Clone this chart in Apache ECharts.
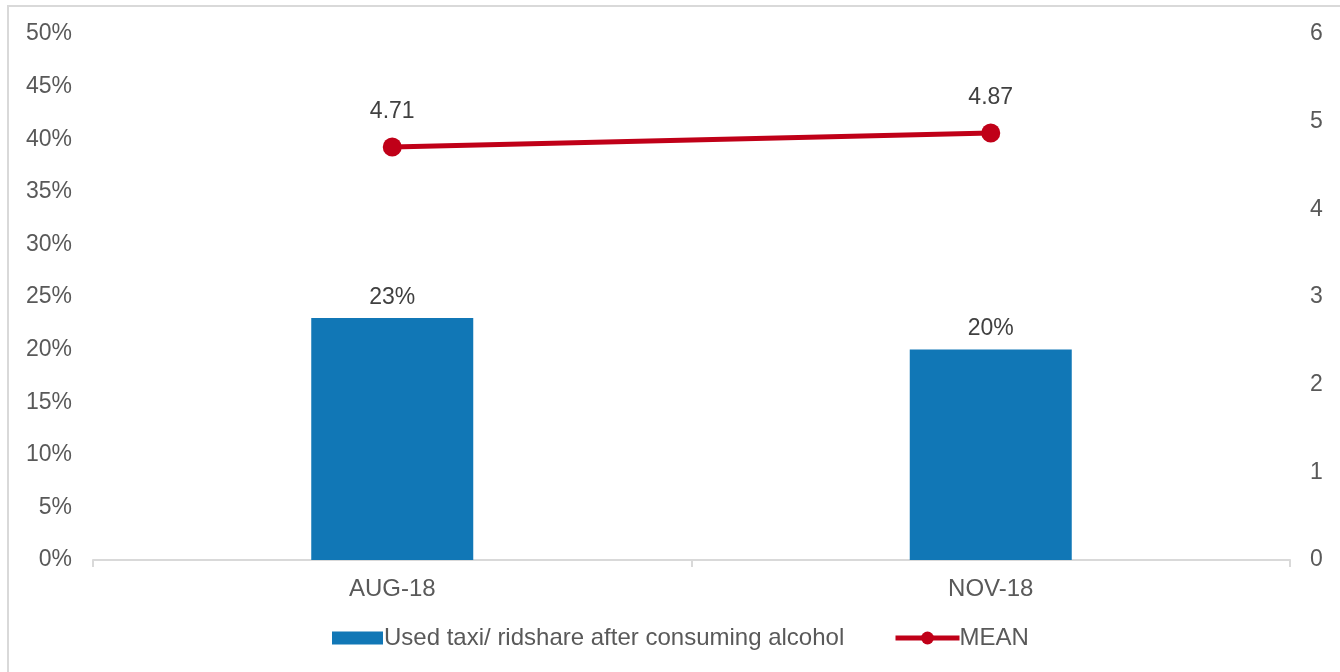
<!DOCTYPE html>
<html>
<head>
<meta charset="utf-8">
<script src="https://cdn.jsdelivr.net/npm/echarts@6/dist/echarts.min.js"></script>
<style>
  html, body { margin: 0; padding: 0; background: #ffffff; }
  #frame { position: absolute; left: 7px; top: 5px; width: 1345px; height: 690px; border: 2px solid #d9d9d9; box-sizing: border-box; }
  #chart { position: absolute; left: 0; top: 0; width: 1340px; height: 672px; }
</style>
</head>
<body>
<div id="frame"></div>
<div id="chart"></div>
<script>
// Survey waves
const categories = ['AUG-18', 'NOV-18'];
// Share who used a taxi / rideshare after consuming alcohol (%)
const taxiShare = [23, 20];
// Mean score (right axis)
const meanScore = [4.71, 4.87];

const barName = 'Used taxi/ ridshare after consuming alcohol';
const lineName = 'MEAN';

const textColor = '#595959';
const labelColor = '#404040';
const font = 'Liberation Sans, Arial, sans-serif';
const fs = 24;
const barColor = '#1177b6';
const lineColor = '#c00018';

const chart = echarts.init(document.getElementById('chart'), null, { renderer: 'canvas' });

chart.setOption({
  animation: false,
  textStyle: { fontFamily: font },
  grid: { left: 93, right: 50, top: 34, bottom: 112, containLabel: false },
  legend: [
    {
      top: 626,
      left: 332,
      padding: 0,
      itemWidth: 51,
      itemHeight: 13,
      textStyle: { color: textColor, fontSize: fs, fontFamily: font, padding: [0, 0, 0, -4] },
      data: [{ name: barName, icon: 'rect' }]
    },
    {
      top: 626,
      left: 893,
      padding: 0,
      itemWidth: 64,
      itemHeight: 16,
      lineStyle: { width: 5 },
      textStyle: { color: textColor, fontSize: fs, fontFamily: font, padding: [0, 0, 0, -5] },
      data: [{ name: lineName }]
    }
  ],
  xAxis: {
    type: 'category',
    data: categories,
    boundaryGap: true,
    axisLine: { lineStyle: { color: '#d9d9d9', width: 2 } },
    axisTick: { show: true, length: 7, lineStyle: { color: '#d9d9d9', width: 2 } },
    axisLabel: { color: textColor, fontSize: fs, margin: 17, fontFamily: font }
  },
  yAxis: [
    {
      type: 'value',
      min: 0,
      max: 50,
      interval: 5,
      axisLine: { show: false },
      axisTick: { show: false },
      splitLine: { show: false },
      axisLabel: { color: textColor, fontSize: fs - 1, margin: 21, fontFamily: font, formatter: '{value}%' }
    },
    {
      type: 'value',
      min: 0,
      max: 6,
      interval: 1,
      axisLine: { show: false },
      axisTick: { show: false },
      splitLine: { show: false },
      axisLabel: { color: textColor, fontSize: fs - 1, margin: 20, fontFamily: font }
    }
  ],
  series: [
    {
      name: barName,
      type: 'bar',
      data: taxiShare,
      barWidth: 162,
      itemStyle: { color: barColor },
      label: {
        show: true,
        position: 'top',
        distance: 9,
        color: labelColor,
        fontSize: fs - 1,
        fontFamily: font,
        formatter: '{c}%'
      }
    },
    {
      name: lineName,
      type: 'line',
      yAxisIndex: 1,
      data: meanScore,
      symbol: 'circle',
      symbolSize: 19,
      lineStyle: { color: lineColor, width: 5 },
      itemStyle: { color: lineColor },
      label: {
        show: true,
        position: 'top',
        distance: 14,
        color: labelColor,
        fontSize: fs - 1,
        fontFamily: font,
        formatter: function (p) { return p.value.toFixed(2); }
      }
    }
  ]
});
</script>
</body>
</html>
